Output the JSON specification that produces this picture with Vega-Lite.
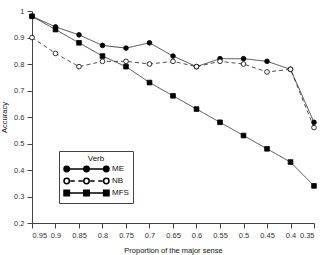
{
  "$schema": "https://vega.github.io/schema/vega-lite/v6.json",
  "width": 282,
  "height": 212,
  "autosize": "none",
  "padding": {"left": 32, "top": 11, "right": 7, "bottom": 32},
  "config": {
    "font": "Liberation Sans",
    "view": {"stroke": null},
    "axis": {
      "grid": false,
      "domainColor": "#444",
      "domainWidth": 1,
      "tickColor": "#444",
      "tickSize": 5,
      "labelColor": "#333",
      "labelFontSize": 7.5,
      "titleColor": "#111",
      "titleFontSize": 7.5,
      "titleFontWeight": "normal"
    },
    "legend": {
      "labelFontSize": 8,
      "labelColor": "#111",
      "titleFontSize": 8,
      "titleFontWeight": "normal",
      "titleColor": "#111"
    }
  },
  "data": {
    "values": [
      {"p": 0.95, "Verb": "ME", "acc": 0.98},
      {"p": 0.9, "Verb": "ME", "acc": 0.94},
      {"p": 0.85, "Verb": "ME", "acc": 0.91},
      {"p": 0.8, "Verb": "ME", "acc": 0.87},
      {"p": 0.75, "Verb": "ME", "acc": 0.86},
      {"p": 0.7, "Verb": "ME", "acc": 0.88},
      {"p": 0.65, "Verb": "ME", "acc": 0.83},
      {"p": 0.6, "Verb": "ME", "acc": 0.79},
      {"p": 0.55, "Verb": "ME", "acc": 0.82},
      {"p": 0.5, "Verb": "ME", "acc": 0.82},
      {"p": 0.45, "Verb": "ME", "acc": 0.81},
      {"p": 0.4, "Verb": "ME", "acc": 0.78},
      {"p": 0.35, "Verb": "ME", "acc": 0.58},
      {"p": 0.95, "Verb": "NB", "acc": 0.90},
      {"p": 0.9, "Verb": "NB", "acc": 0.84},
      {"p": 0.85, "Verb": "NB", "acc": 0.79},
      {"p": 0.8, "Verb": "NB", "acc": 0.81},
      {"p": 0.75, "Verb": "NB", "acc": 0.81},
      {"p": 0.7, "Verb": "NB", "acc": 0.80},
      {"p": 0.65, "Verb": "NB", "acc": 0.81},
      {"p": 0.6, "Verb": "NB", "acc": 0.79},
      {"p": 0.55, "Verb": "NB", "acc": 0.81},
      {"p": 0.5, "Verb": "NB", "acc": 0.80},
      {"p": 0.45, "Verb": "NB", "acc": 0.77},
      {"p": 0.4, "Verb": "NB", "acc": 0.78},
      {"p": 0.35, "Verb": "NB", "acc": 0.56},
      {"p": 0.95, "Verb": "MFS", "acc": 0.98},
      {"p": 0.9, "Verb": "MFS", "acc": 0.93},
      {"p": 0.85, "Verb": "MFS", "acc": 0.88},
      {"p": 0.8, "Verb": "MFS", "acc": 0.83},
      {"p": 0.75, "Verb": "MFS", "acc": 0.79},
      {"p": 0.7, "Verb": "MFS", "acc": 0.73},
      {"p": 0.65, "Verb": "MFS", "acc": 0.68},
      {"p": 0.6, "Verb": "MFS", "acc": 0.63},
      {"p": 0.55, "Verb": "MFS", "acc": 0.58},
      {"p": 0.5, "Verb": "MFS", "acc": 0.53},
      {"p": 0.45, "Verb": "MFS", "acc": 0.48},
      {"p": 0.4, "Verb": "MFS", "acc": 0.43},
      {"p": 0.35, "Verb": "MFS", "acc": 0.34}
    ]
  },
  "encoding": {
    "x": {
      "field": "p",
      "type": "quantitative",
      "title": "Proportion of the major sense",
      "scale": {"domain": [0.35, 0.95], "reverse": true, "nice": false, "zero": false},
      "axis": {
        "values": [0.95, 0.9, 0.85, 0.8, 0.75, 0.7, 0.65, 0.6, 0.55, 0.5, 0.45, 0.4, 0.35],
        "format": ".2~f",
        "labelPadding": 3,
        "titlePadding": 8,
        "titleColor": "#111"
      }
    },
    "y": {
      "field": "acc",
      "type": "quantitative",
      "title": "Accuracy",
      "scale": {"domain": [0.2, 1], "nice": false, "zero": false},
      "axis": {
        "values": [0.2, 0.3, 0.4, 0.5, 0.6, 0.7, 0.8, 0.9, 1],
        "format": ".1~f",
        "labelPadding": 3,
        "titlePadding": 5
      }
    }
  },
  "layer": [
    {
      "mark": {"type": "line", "color": "#222", "strokeWidth": 0.8},
      "encoding": {
        "strokeDash": {
          "field": "Verb",
          "type": "nominal",
          "scale": {"domain": ["ME", "NB", "MFS"], "range": [[1, 0], [4, 3], [1, 0]]},
          "legend": null
        }
      }
    },
    {
      "mark": {"type": "point", "filled": true, "size": 22, "stroke": "#000", "strokeWidth": 0.8, "opacity": 1},
      "encoding": {
        "shape": {
          "field": "Verb",
          "type": "nominal",
          "scale": {"domain": ["ME", "NB", "MFS"], "range": ["circle", "circle", "square"]},
          "legend": null
        },
        "fill": {
          "field": "Verb",
          "type": "nominal",
          "scale": {"domain": ["ME", "NB", "MFS"], "range": ["#000", "#fff", "#000"]},
          "legend": null
        }
      }
    },
    {
      "transform": [{"filter": "datum.Verb == 'legend-only'"}],
      "mark": {"type": "point", "filled": true, "stroke": "#000", "strokeWidth": 0.8, "opacity": 1},
      "encoding": {
        "shape": {
          "field": "Verb",
          "type": "nominal",
          "title": "Verb",
          "scale": {
            "domain": ["ME", "NB", "MFS"],
            "range": [
              "M-0.88,0H0.88M-1,0A0.12,0.12 0 1 0 -0.76,0A0.12,0.12 0 1 0 -1,0M-0.12,0A0.12,0.12 0 1 0 0.12,0A0.12,0.12 0 1 0 -0.12,0M0.76,0A0.12,0.12 0 1 0 1,0A0.12,0.12 0 1 0 0.76,0",
              "M-0.72,0H-0.52M-0.36,0H-0.16M0.16,0H0.36M0.52,0H0.72M-1,0A0.12,0.12 0 1 0 -0.76,0A0.12,0.12 0 1 0 -1,0M-0.12,0A0.12,0.12 0 1 0 0.12,0A0.12,0.12 0 1 0 -0.12,0M0.76,0A0.12,0.12 0 1 0 1,0A0.12,0.12 0 1 0 0.76,0",
              "M-0.88,0H0.88M-1,-0.12H-0.76V0.12H-1ZM-0.12,-0.12H0.12V0.12H-0.12ZM0.76,-0.12H1V0.12H0.76Z"
            ]
          },
          "legend": {
            "orient": "none",
            "legendX": 27,
            "legendY": 140,
            "strokeColor": "#444",
            "fillColor": "#fff",
            "padding": 4,
            "titleAnchor": "middle",
            "titlePadding": 0,
            "rowPadding": 0,
            "symbolSize": 2025,
            "labelOffset": 2,
            "clipHeight": 12,
            "encode": {
              "symbols": {
                "update": {
                  "stroke": {"value": "#000"},
                  "strokeWidth": {"value": 0.8},
                  "opacity": {"value": 1}
                }
              }
            }
          }
        },
        "fill": {
          "field": "Verb",
          "type": "nominal",
          "title": "Verb",
          "scale": {"domain": ["ME", "NB", "MFS"], "range": ["#000", "#fff", "#000"]}
        }
      }
    }
  ],
  "resolve": {"scale": {"shape": "independent", "fill": "independent"}}
}
